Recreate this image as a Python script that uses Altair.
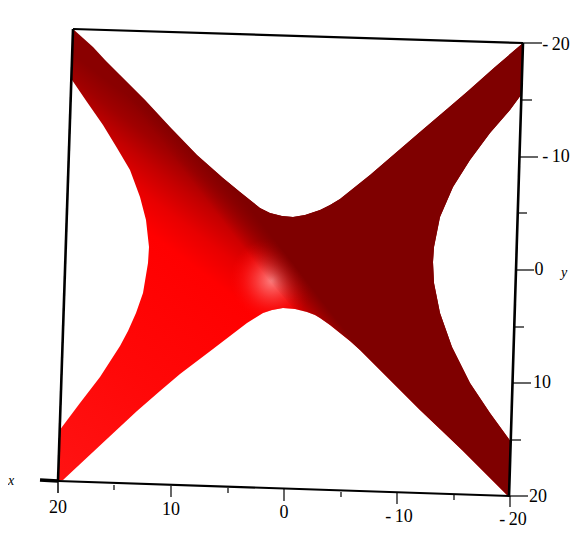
import altair as alt
import pandas as pd

# Surface outline in projected picture coordinates (clockwise from the far-left corner)
top_x = [73, 93, 105, 120, 145, 170, 197, 223, 240, 250, 260, 270, 282, 293, 305, 320, 330, 340, 370, 420, 447, 468, 495, 523]
top_y = [29, 47, 60, 75, 100, 127, 155, 178, 192, 200, 208, 213, 216, 217, 215, 210, 205, 199, 175, 132, 109, 91, 67, 43]
right_x = [521, 510, 490, 470, 453, 440, 434, 433, 434, 440, 452, 470, 490, 511, 509]
right_y = [95, 110, 133, 160, 187, 217, 247, 262, 283, 313, 347, 383, 413, 442, 497]
bottom_x = [505, 462, 440, 420, 400, 380, 360, 350, 340, 330, 320, 315, 307, 295, 283, 272, 263, 255, 247, 230, 213, 180, 160, 137, 108, 63, 58]
bottom_y = [493, 450, 429, 410, 390, 370, 350, 341, 333, 325, 318, 315, 312, 309, 308, 310, 313, 318, 323, 336, 349, 374, 391, 411, 438, 480, 481]
left_x = [60, 62, 80, 100, 120, 128, 136, 143, 148, 149, 146, 140, 130, 117, 103, 87, 72]
left_y = [430, 427, 403, 377, 346, 331, 313, 293, 263, 247, 220, 197, 170, 148, 125, 102, 80]

# Boundary of the region of the surface that falls into shadow on the right
shade_x = [72, 294]
shade_y = [50, 309]

# Frame and tick segments
frame_x = [73, 73, 523, 58, 40, 58]
frame_x2 = [58, 523, 509, 510, 58, 58]
frame_y = [29, 29, 43, 481, 480, 481]
frame_y2 = [481, 43, 497, 496, 481, 493]
frame_w = [2.6, 2.2, 2.6, 2.2, 3.5, 1.5]

xtick_x = [114, 171, 228, 284, 341, 397, 454, 510]
xtick_y = [485, 486, 488, 489, 492, 493, 495, 496]
xtick_y2 = [490, 497, 493, 501, 497, 504, 500, 507]
ytick_x = [523, 521, 520, 518, 517, 515, 513, 512, 510]
ytick_x2 = [542, 532, 538, 527, 534, 524, 531, 521, 528]
ytick_y = [43, 100, 157, 213, 270, 327, 383, 440, 496]

# Tick labels
xlab_text = ["20", "10", "0", "-\u200910", "-\u200920"]
xlab_x = [58, 171, 284, 399, 513]
xlab_y = [508, 510, 513, 517, 520]
ylab_text = ["-\u200920", "-\u200910", "0", "10", "20"]
ylab_x = [556, 556, 539, 542, 538]
ylab_y = [45, 157, 270, 383, 497]
title_text = ["x", "y", "z"]
title_x = [11, 564, 283]
title_y = [481, 273, 551]

X = alt.X("x:Q", scale=alt.Scale(domain=[8, 570], nice=False, zero=False), axis=None)
Y = alt.Y("y:Q", scale=alt.Scale(domain=[544, 8], nice=False, zero=False), axis=None)


def poly(xs, ys, fill):
    df = pd.DataFrame({"x": xs + xs[:1], "y": ys + ys[:1]})
    df["i"] = range(len(df))
    return alt.Chart(df).mark_line(fill=fill, strokeWidth=0, clip=False).encode(
        x=X, y=Y, order=alt.Order("i:Q")
    )


out_x = top_x + right_x + bottom_x + left_x
out_y = top_y + right_y + bottom_y + left_y

light = alt.Gradient(
    gradient="linear", x1=0.306, y1=0.26, x2=-0.211, y2=0.946,
    stops=[
        alt.GradientStop(color="#8a0000", offset=0),
        alt.GradientStop(color="#a00000", offset=0.05),
        alt.GradientStop(color="#c40000", offset=0.105),
        alt.GradientStop(color="#e80000", offset=0.17),
        alt.GradientStop(color="#ff0000", offset=0.24),
        alt.GradientStop(color="#ff0808", offset=0.55),
        alt.GradientStop(color="#ff1414", offset=0.9),
    ],
)
base = poly(out_x, out_y, light)

# highlight patch, clipped to the lower edge of the surface
hi_x = [230, 314, 314, 307, 295, 283, 272, 263, 255, 247, 245, 230]
hi_y = [238, 238, 314, 312, 309, 308, 310, 313, 318, 323, 322, 322]
glow = alt.RadialGradient(
    gradient="radial", x1=0.5, y1=0.5, x2=0.5, y2=0.5, r1=0, r2=0.5,
    stops=[
        alt.GradientStop(color="rgba(255,135,135,0.95)", offset=0),
        alt.GradientStop(color="rgba(255,85,85,0.8)", offset=0.3),
        alt.GradientStop(color="rgba(255,30,30,0.55)", offset=0.65),
        alt.GradientStop(color="rgba(255,0,0,0)", offset=1),
    ],
)
highlight = poly(hi_x, hi_y, glow)

# shadow polygon: outline from the far corner round to the lower edge
n_b = bottom_x.index(295) + 1
sh_x = top_x + right_x + bottom_x[:n_b] + shade_x[::-1]
sh_y = top_y + right_y + bottom_y[:n_b] + shade_y[::-1]
shadow = alt.Gradient(
    gradient="linear", x1=0.421, y1=0.519, x2=0.472, y2=0.478,
    stops=[
        alt.GradientStop(color="rgba(127,0,0,0)", offset=0),
        alt.GradientStop(color="rgba(127,0,0,1)", offset=1),
    ],
)
shade = poly(sh_x, sh_y, shadow)

frame_df = pd.DataFrame({"x": frame_x, "x2": frame_x2, "y": frame_y, "y2": frame_y2, "w": frame_w})
frame = alt.Chart(frame_df).mark_rule(color="black").encode(
    x=X, y=Y, x2="x2:Q", y2="y2:Q",
    strokeWidth=alt.StrokeWidth("w:Q", scale=None),
)
xt = alt.Chart(pd.DataFrame({"x": xtick_x, "y": xtick_y, "y2": xtick_y2})).mark_rule(
    color="black", strokeWidth=1.2
).encode(x=X, y=Y, y2="y2:Q")
yt = alt.Chart(pd.DataFrame({"x": ytick_x, "x2": ytick_x2, "y": ytick_y})).mark_rule(
    color="black", strokeWidth=1.2
).encode(x=X, x2="x2:Q", y=Y)


def labels(txt, xs, ys, italic=False, size=18):
    df = pd.DataFrame({"t": txt, "x": xs, "y": ys})
    kw = {"fontStyle": "italic"} if italic else {}
    return alt.Chart(df).mark_text(
        font="Liberation Serif", fontSize=size, color="black",
        align="center", baseline="middle", **kw
    ).encode(x=X, y=Y, text="t:N")


chart = alt.layer(
    base, highlight, shade, frame, xt, yt,
    labels(xlab_text, xlab_x, xlab_y),
    labels(ylab_text, ylab_x, ylab_y),
    labels(title_text, title_x, title_y, italic=True, size=14),
).properties(
    width=562, height=536, padding=0, autosize=alt.AutoSizeParams(type="none")
).configure_view(stroke=None)

chart.save("out.html", embed_options={"renderer": "svg", "actions": False})
